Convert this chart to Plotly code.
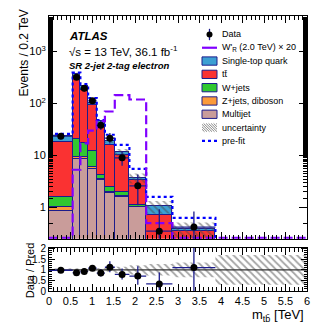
import plotly.graph_objects as go
from plotly.subplots import make_subplots

# bin edges in TeV
edges = [0.0, 0.55, 0.73, 0.91, 1.11, 1.30, 1.53, 1.87, 2.26, 2.87, 3.87]

# post-fit backgrounds (events / 0.2 TeV), bottom of stack first
multijet = [0.86, 8.5, 8.5, 5.5, 3.3, 1.9, 1.6, 1.0, 0.1, 0.05]
zjets_diboson = [0.14, 1.0, 0.7, 0.5, 0.15, 0.1, 0.05, 0.03, 0.01, 0.005]
wjets = [0.62, 11.5, 7.8, 6.0, 0.75, 0.5, 0.35, 0.07, 0.04, 0.015]
ttbar = [16.9, 309, 163, 80, 30.8, 13.5, 8.0, 2.3, 0.58, 0.29]
single_top = [5.5, 42, 32, 12, 10, 3.2, 1.5, 0.3, 0.32, 0.02]
rel_unc = [0.06, 0.05, 0.06, 0.07, 0.08, 0.1, 0.15, 0.22, 0.27, 0.35]

data = [23.5, 320, 196, 112, 38, 21.5, 9.0, 2.6, 0.35, 0.42]
data_err_up = [3.0, 38, 30, 14, 8, 5.5, 3.2, 1.7, 0.57, 0.42]
data_err_dn = [3.0, 36, 28, 13, 7, 4.5, 2.7, 1.5, 0.3, 0.42]

prefit = [26, 390, 235, 126, 48, 25, 16, 5.5, 1.6, 0.63]

sig_edges = edges + [6.0]
wprime = [0.26, 5.3, 17, 30, 45, 70, 144, 119, 0.5, 0.26, 0.26]

ratio_unc_edges = edges + [6.0]
ratio_unc = rel_unc + [0.7]

col_stop = "#3c9fd3"
col_tt = "#fa3232"
col_w = "#30c830"
col_z = "#fb9a3a"
col_mj = "#c99c9a"
col_line = "#1c1c8c"
col_sig = "#8000ff"
col_pre = "#0000ff"

YMIN, YMAX = 0.25, 4800

centers = [(a + b) / 2 for a, b in zip(edges[:-1], edges[1:])]
widths = [b - a for a, b in zip(edges[:-1], edges[1:])]
total = [sum(v) for v in zip(multijet, zjets_diboson, wjets, ttbar, single_top)]
ratio = [d / t for d, t in zip(data, total)]
ratio_up = [e / t for e, t in zip(data_err_up, total)]
ratio_dn = [e / t for e, t in zip(data_err_dn, total)]


def step(e, v):
    xs, ys = [], []
    for i, val in enumerate(v):
        xs += [e[i], e[i + 1]]
        ys += [val, val]
    return xs, ys


def band(e, lo, hi):
    xu, yu = step(e, hi)
    xl, yl = step(e, lo)
    return xu + xl[::-1] + [xu[0]], yu + yl[::-1] + [yu[0]]


fig = make_subplots(rows=2, cols=1, shared_xaxes=True)

for name, vals, col in [("Multijet", multijet, col_mj),
                        ("Z+jets, diboson", zjets_diboson, col_z),
                        ("W+jets", wjets, col_w),
                        ("tt", ttbar, col_tt),
                        ("Single-top quark", single_top, col_stop)]:
    fig.add_trace(go.Bar(x=centers, y=vals, width=widths, name=name,
                         marker=dict(color=col, line=dict(color=col_line, width=1))),
                  row=1, col=1)

hatch = dict(shape="\\", size=5, solidity=0.35, fgcolor="#4a4a4a",
             bgcolor="rgba(0,0,0,0)")

bx, by = band(edges, [t * (1 - u) for t, u in zip(total, rel_unc)],
              [t * (1 + u) for t, u in zip(total, rel_unc)])
fig.add_trace(go.Scatter(x=bx, y=by, fill="toself", fillcolor="rgba(0,0,0,0)",
                         fillpattern=hatch, line=dict(width=0), mode="lines",
                         hoverinfo="skip"), row=1, col=1)

px_, py_ = step(edges, prefit)
px_ += [edges[-1]]
py_ += [YMIN / 10]
fig.add_trace(go.Scatter(x=px_, y=py_, mode="lines",
                         line=dict(color=col_pre, width=2.2, dash="dot")),
              row=1, col=1)

sx, sy = step(sig_edges, wprime)
fig.add_trace(go.Scatter(x=sx, y=sy, mode="lines",
                         line=dict(color=col_sig, width=2.2, dash="9px,4px")),
              row=1, col=1)

fig.add_trace(go.Scatter(
    x=centers, y=data, mode="markers",
    marker=dict(color="black", size=7),
    error_y=dict(type="data", array=data_err_up, arrayminus=data_err_dn,
                 color=col_line, thickness=1.3, width=0),
    error_x=dict(type="data", array=[w / 2 for w in widths],
                 color=col_line, thickness=1.3, width=0)), row=1, col=1)

# ratio panel
rx, ry = band(ratio_unc_edges, [1 - u for u in ratio_unc], [1 + u for u in ratio_unc])
fig.add_trace(go.Scatter(x=rx, y=ry, fill="toself", fillcolor="rgba(0,0,0,0)",
                         fillpattern=hatch, line=dict(width=0), mode="lines",
                         hoverinfo="skip"), row=2, col=1)
fig.add_trace(go.Scatter(x=[0, 6], y=[1, 1], mode="lines",
                         line=dict(color="#333333", width=1.2)), row=2, col=1)
fig.add_trace(go.Scatter(
    x=centers, y=ratio, mode="markers",
    marker=dict(color="black", size=7),
    error_y=dict(type="data", array=ratio_up, arrayminus=ratio_dn,
                 color=col_line, thickness=1.3, width=0),
    error_x=dict(type="data", array=[w / 2 for w in widths],
                 color=col_line, thickness=1.3, width=0)), row=2, col=1)

axis_common = dict(showline=True, linecolor="black", linewidth=1, mirror="ticks",
                   ticks="inside", tickcolor="black", showgrid=False, zeroline=False,
                   tickfont=dict(family="Liberation Sans, Arial", size=11, color="black"))

fig.update_xaxes(range=[0, 6], dtick=0.5, ticklen=7,
                 minor=dict(ticks="inside", dtick=0.1, ticklen=4, tickcolor="black"),
                 **axis_common)
fig.update_xaxes(showticklabels=False, row=1, col=1)
fig.update_yaxes(type="log", range=[-0.602, 3.681], tickvals=[1, 10, 100, 1000],
                 ticktext=["1", "10", "10<sup>2</sup>", "10<sup>3</sup>"], ticklen=8,
                 minor=dict(ticks="inside", ticklen=4, tickcolor="black"),
                 domain=[0.19, 1.0], row=1, col=1, **axis_common)
axis_ratio = dict(axis_common)
axis_ratio["tickfont"] = dict(family="Liberation Sans, Arial", size=10, color="black")
fig.update_yaxes(range=[0, 2.05], tickvals=[0, 0.5, 1, 1.5, 2], ticklen=6,
                 minor=dict(ticks="inside", dtick=0.1, ticklen=3, tickcolor="black"),
                 domain=[0.0, 0.158], row=2, col=1, **axis_ratio)

L, R, T, B, W, H = 49, 25, 12, 33, 332, 324


def fx(p):
    return (p - L) / (W - L - R)


def fy(p):
    return (H - B - p) / (H - T - B)


font = "Liberation Sans, Arial"
ann = [
    dict(x=fx(67), y=fy(32), text="<b><i>ATLAS</i></b>", size=11.5),
    dict(x=fx(67), y=fy(48), text="√s = 13 TeV, 36.1 fb<sup>-1</sup>", size=11.5),
    dict(x=fx(67), y=fy(62), text="<b><i>SR 2-jet 2-tag electron</i></b>", size=9.5),
]
legend_items = ["Data", "W'<sub>R</sub> (2.0 TeV) × 20", "Single-top quark",
                "tt\u0304", "W+jets", "Z+jets, diboson", "Multijet",
                "uncertainty", "pre-fit"]
leg_y = [30.7 + 13.5 * i for i in range(len(legend_items))]
for txt, y in zip(legend_items, leg_y):
    ann.append(dict(x=fx(220), y=fy(y), text=txt, size=9))
for a in ann:
    fig.add_annotation(x=a["x"], y=a["y"], xref="paper", yref="paper", text=a["text"],
                       showarrow=False, xanchor="left", yanchor="middle",
                       font=dict(family=font, size=a["size"], color="black"))

fig.add_annotation(x=fx(24), y=fy(50), xref="paper", yref="paper",
                   text="Events / 0.2 TeV", textangle=-90, showarrow=False,
                   xanchor="center", yanchor="middle",
                   font=dict(family=font, size=12, color="black"))
fig.add_annotation(x=fx(30), y=fy(270), xref="paper", yref="paper",
                   text="Data / Pred", textangle=-90, showarrow=False,
                   xanchor="center", yanchor="middle",
                   font=dict(family=font, size=11, color="black"))
fig.add_annotation(x=fx(306), y=fy(315.5), xref="paper", yref="paper",
                   text="m<sub>tb\u0304</sub> [TeV]", showarrow=False,
                   xanchor="right", yanchor="middle",
                   font=dict(family=font, size=13, color="black"))

# legend glyphs
x0, x1 = fx(202), fx(217)
shapes = []
shapes.append(dict(type="line", x0=fx(209.5), x1=fx(209.5), y0=fy(25), y1=fy(36.5),
                   line=dict(color=col_line, width=1.3)))
shapes.append(dict(type="circle", x0=fx(206.5), x1=fx(212.5), y0=fy(27.7), y1=fy(33.7),
                   fillcolor="black", line=dict(color="black", width=0)))
shapes.append(dict(type="line", x0=x0, x1=x1, y0=fy(leg_y[1]), y1=fy(leg_y[1]),
                   line=dict(color=col_sig, width=2.2)))
for i, col in zip(range(2, 7), [col_stop, col_tt, col_w, col_z, col_mj]):
    shapes.append(dict(type="rect", x0=x0, x1=x1, y0=fy(leg_y[i] - 4.2),
                       y1=fy(leg_y[i] + 4.2), fillcolor=col,
                       line=dict(color=col_line, width=1)))
top, bot = leg_y[7] - 4.2, leg_y[7] + 4.2
hgt = bot - top
c = 202 - hgt
while c < 217:
    xa, ya = c, top
    xb, yb = c + hgt, bot
    if xa < 202:
        ya += 202 - xa
        xa = 202
    if xb > 217:
        yb -= xb - 217
        xb = 217
    shapes.append(dict(type="line", x0=fx(xa), x1=fx(xb), y0=fy(ya), y1=fy(yb),
                       line=dict(color="#666666", width=0.8)))
    c += 2.5
shapes.append(dict(type="line", x0=x0, x1=x1, y0=fy(leg_y[8]), y1=fy(leg_y[8]),
                   line=dict(color=col_pre, width=2.2, dash="dot")))
for s in shapes:
    s.update(xref="paper", yref="paper")
    fig.add_shape(**s)

fig.update_layout(width=W, height=H, margin=dict(l=L, r=R, t=T, b=B),
                  barmode="stack", bargap=0, showlegend=False,
                  plot_bgcolor="white", paper_bgcolor="white")

fig.write_html("out.html", config={"displayModeBar": False},
               post_script="document.body.style.margin='0';")
